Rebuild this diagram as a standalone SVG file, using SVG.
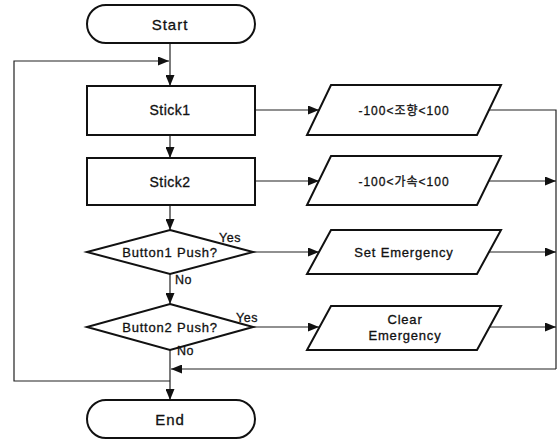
<svg xmlns="http://www.w3.org/2000/svg" width="558" height="441" viewBox="0 0 558 441">
<defs>
<marker id="ah" viewBox="0 0 11 9" refX="11" refY="4.5" markerWidth="11" markerHeight="9" markerUnits="userSpaceOnUse" orient="auto">
<path d="M0,0 L11,4.5 L0,9 Z" fill="#111"/>
</marker>
</defs>
<style>
.shape{fill:#fff;stroke:#111;stroke-width:2}
.ln{fill:none;stroke:#222;stroke-width:1.2}
.arr{fill:none;stroke:#222;stroke-width:1.2;marker-end:url(#ah)}
text{font-family:"Liberation Sans","Noto Sans CJK KR",Arial,sans-serif;fill:#111;stroke:#111;stroke-width:0.3;text-anchor:middle}
.t15{font-size:15px;letter-spacing:1px}
.t14{font-size:14px;letter-spacing:0.5px}
.t13{font-size:13px;letter-spacing:0.8px}
.t12{font-size:12px;letter-spacing:1px}
.lab{font-size:12.5px;text-anchor:start;letter-spacing:0.5px}
</style>
<rect width="558" height="441" fill="#fff"/>
<g id="connectors">
<line class="arr" x1="170" y1="43" x2="170" y2="86"/>
<line class="arr" x1="170" y1="135" x2="170" y2="158"/>
<line class="arr" x1="170" y1="205" x2="170" y2="230"/>
<line class="arr" x1="170" y1="274" x2="170" y2="304"/>
<line class="arr" x1="170" y1="350" x2="170" y2="400"/>
<polyline class="arr" points="170,381 14,381 14,61 169,61"/>
<line class="arr" x1="255" y1="110" x2="319" y2="110"/>
<line class="arr" x1="255" y1="181" x2="319" y2="181"/>
<line class="arr" x1="253" y1="252" x2="319" y2="252"/>
<line class="arr" x1="253" y1="327" x2="319" y2="327"/>
<polyline class="ln" points="489,110 556,110 556,369"/>
<line class="arr" x1="489" y1="181" x2="556" y2="181"/>
<line class="arr" x1="489" y1="252" x2="556" y2="252"/>
<line class="arr" x1="489" y1="327" x2="556" y2="327"/>
<line class="arr" x1="556" y1="369" x2="171" y2="369"/>
</g>
<g id="start">
<rect class="shape" x="87" y="5" width="168" height="38" rx="19" ry="19"/>
<text class="t15" x="170" y="30">Start</text>
</g>
<g id="stick1">
<rect class="shape" x="87" y="86" width="168" height="49"/>
<text class="t14" x="170" y="115">Stick1</text>
</g>
<g id="stick2">
<rect class="shape" x="87" y="158" width="168" height="47"/>
<text class="t14" x="170" y="187">Stick2</text>
</g>
<g id="button1">
<polygon class="shape" points="170,230 253,252 170,274 87,252"/>
<text class="t13" x="170" y="256.5">Button1 Push?</text>
<text class="lab" x="219" y="242">Yes</text>
<text class="lab" x="175" y="284">No</text>
</g>
<g id="button2">
<polygon class="shape" points="170,304 253,327 170,350 87,327"/>
<text class="t13" x="170" y="332">Button2 Push?</text>
<text class="lab" x="236" y="322">Yes</text>
<text class="lab" x="177" y="355">No</text>
</g>
<g id="steer">
<polygon class="shape" points="331,85 501,85 477,135 307,135"/>
<text class="t12" x="404" y="114.5">-100&lt;조향&lt;100</text>
</g>
<g id="accel">
<polygon class="shape" points="331,156 501,156 477,205 307,205"/>
<text class="t12" x="404" y="185.5">-100&lt;가속&lt;100</text>
</g>
<g id="setem">
<polygon class="shape" points="331,230 501,230 477,274 307,274"/>
<text class="t13" x="404" y="256.5">Set Emergency</text>
</g>
<g id="clearem">
<polygon class="shape" points="331,306 501,306 477,350 307,350"/>
<text class="t13" x="405" y="323.5">Clear</text>
<text class="t13" x="405" y="339.5">Emergency</text>
</g>
<g id="end">
<rect class="shape" x="87" y="400" width="168" height="38" rx="19" ry="19"/>
<text class="t15" x="170" y="425">End</text>
</g>
</svg>
